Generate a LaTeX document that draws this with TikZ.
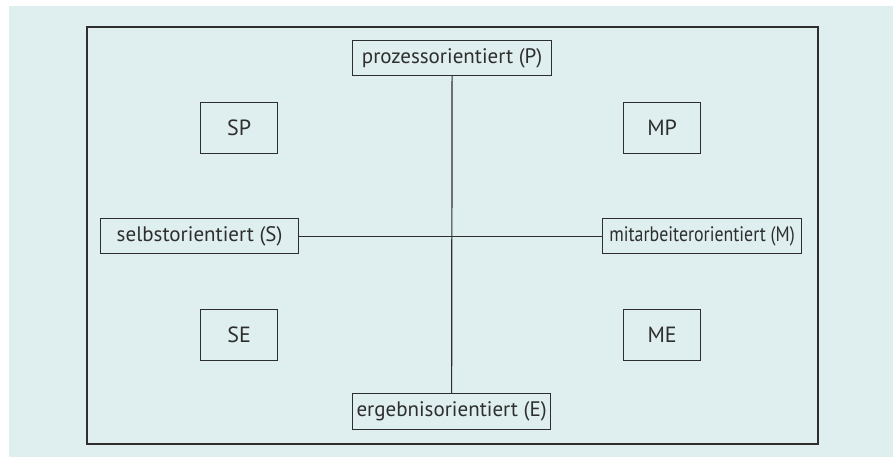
\documentclass[tikz,border=0pt]{standalone}
\usepackage{fontspec}
\setmainfont{PT Sans}
\usepackage{graphicx}
\definecolor{bgc}{HTML}{DFEEEE}
\definecolor{linec}{HTML}{2E2E2E}
\begin{document}
\begin{tikzpicture}[x=1pt,y=-1pt,
  box/.style={draw=linec,line width=1.2pt,fill=bgc,inner sep=0pt,anchor=north west,font=\fontsize{21}{24}\selectfont,text=linec},
  conn/.style={draw=linec,line width=1.2pt}]
\useasboundingbox (0,0) rectangle (893,457);
\fill[bgc] (9,6) rectangle (893,457);
\draw[linec,line width=1.4pt] (87,27) rectangle (818,444);
\node[box,minimum width=199pt,minimum height=35pt] (P) at (352,40) {prozessorientiert (P)};
\node[box,minimum width=198pt,minimum height=35pt] (S) at (100,218) {selbstorientiert (S)};
\node[box,minimum width=199pt,minimum height=35pt] (M) at (602,218) {\scalebox{0.85}[1]{mitarbeiterorientiert (M)}};
\node[box,minimum width=198pt,minimum height=36pt] (E) at (352,393) {ergebnisorientiert (E)};
\node[box,minimum width=77pt,minimum height=51pt,font=\fontsize{22}{24}\selectfont] (SP) at (200,102) {SP};
\node[box,minimum width=77pt,minimum height=51pt,font=\fontsize{22}{24}\selectfont] (MP) at (623,102) {MP};
\node[box,minimum width=77pt,minimum height=51pt,font=\fontsize{22}{24}\selectfont] (SE) at (200,309) {SE};
\node[box,minimum width=77pt,minimum height=51pt,font=\fontsize{22}{24}\selectfont] (ME) at (623,309) {ME};
\draw[conn] (P.south) -- (E.north);
\draw[conn] (S.east) -- (M.west);
\end{tikzpicture}
\end{document}
